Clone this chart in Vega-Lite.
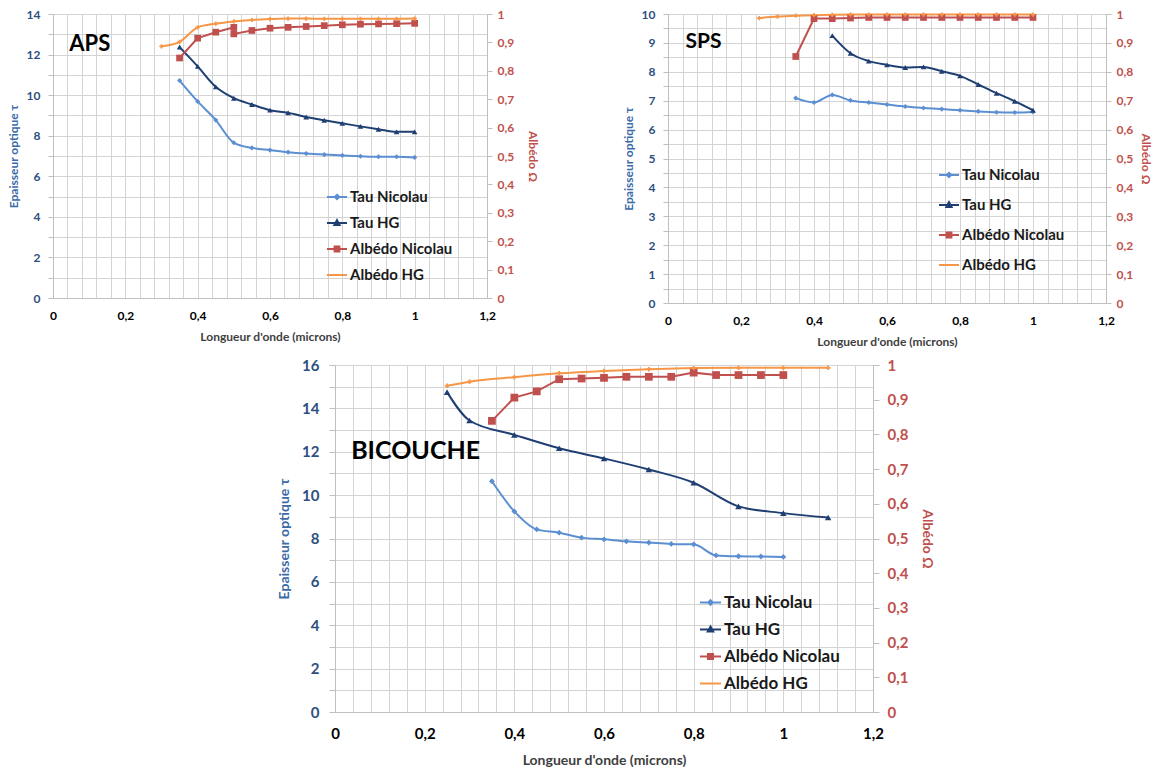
{
  "$schema": "https://vega.github.io/schema/vega-lite/v6.json",
  "padding": {"left": 7, "top": 8, "right": 0, "bottom": 0},
  "background": "white",
  "config": {
    "font": "Lato",
    "view": {"stroke": null},
    "axis": {"domainColor": "#bfbfbf", "gridColor": "#d4d4d4", "tickColor": "#bfbfbf", "labelFontWeight": "bold", "titleFontWeight": "bold", "labelFont": "Lato", "titleFont": "Lato", "labelOverlap": false, "labelFlush": false, "tickCount": 1000},
    "legend": {"labelFont": "Lato"}
  },
  "datasets": {
    "d": [
      {"p": "APS", "s": "Tau Nicolau", "x": 0.35, "y": 10.72},
      {"p": "APS", "s": "Tau Nicolau", "x": 0.4, "y": 9.69},
      {"p": "APS", "s": "Tau Nicolau", "x": 0.45, "y": 8.77},
      {"p": "APS", "s": "Tau Nicolau", "x": 0.5, "y": 7.65},
      {"p": "APS", "s": "Tau Nicolau", "x": 0.55, "y": 7.4},
      {"p": "APS", "s": "Tau Nicolau", "x": 0.6, "y": 7.29},
      {"p": "APS", "s": "Tau Nicolau", "x": 0.65, "y": 7.19},
      {"p": "APS", "s": "Tau Nicolau", "x": 0.7, "y": 7.12},
      {"p": "APS", "s": "Tau Nicolau", "x": 0.75, "y": 7.07},
      {"p": "APS", "s": "Tau Nicolau", "x": 0.8, "y": 7.03},
      {"p": "APS", "s": "Tau Nicolau", "x": 0.85, "y": 6.99},
      {"p": "APS", "s": "Tau Nicolau", "x": 0.9, "y": 6.96},
      {"p": "APS", "s": "Tau Nicolau", "x": 0.95, "y": 6.96},
      {"p": "APS", "s": "Tau Nicolau", "x": 1.0, "y": 6.93},
      {"p": "APS", "s": "Tau HG", "x": 0.35, "y": 12.37},
      {"p": "APS", "s": "Tau HG", "x": 0.4, "y": 11.42},
      {"p": "APS", "s": "Tau HG", "x": 0.45, "y": 10.41},
      {"p": "APS", "s": "Tau HG", "x": 0.5, "y": 9.85},
      {"p": "APS", "s": "Tau HG", "x": 0.55, "y": 9.54},
      {"p": "APS", "s": "Tau HG", "x": 0.6, "y": 9.26},
      {"p": "APS", "s": "Tau HG", "x": 0.65, "y": 9.13},
      {"p": "APS", "s": "Tau HG", "x": 0.7, "y": 8.92},
      {"p": "APS", "s": "Tau HG", "x": 0.75, "y": 8.76},
      {"p": "APS", "s": "Tau HG", "x": 0.8, "y": 8.61},
      {"p": "APS", "s": "Tau HG", "x": 0.85, "y": 8.46},
      {"p": "APS", "s": "Tau HG", "x": 0.9, "y": 8.32},
      {"p": "APS", "s": "Tau HG", "x": 0.95, "y": 8.19},
      {"p": "APS", "s": "Tau HG", "x": 1.0, "y": 8.19},
      {"p": "APS", "s": "Albédo Nicolau", "x": 0.35, "y": 0.845, "i": 1},
      {"p": "APS", "s": "Albédo Nicolau", "x": 0.4, "y": 0.915, "i": 2},
      {"p": "APS", "s": "Albédo Nicolau", "x": 0.45, "y": 0.936, "i": 3},
      {"p": "APS", "s": "Albédo Nicolau", "x": 0.5, "y": 0.953, "i": 4},
      {"p": "APS", "s": "Albédo Nicolau", "x": 0.5, "y": 0.93, "i": 5},
      {"p": "APS", "s": "Albédo Nicolau", "x": 0.55, "y": 0.942, "i": 6},
      {"p": "APS", "s": "Albédo Nicolau", "x": 0.6, "y": 0.95, "i": 7},
      {"p": "APS", "s": "Albédo Nicolau", "x": 0.65, "y": 0.953, "i": 8},
      {"p": "APS", "s": "Albédo Nicolau", "x": 0.7, "y": 0.956, "i": 9},
      {"p": "APS", "s": "Albédo Nicolau", "x": 0.75, "y": 0.959, "i": 10},
      {"p": "APS", "s": "Albédo Nicolau", "x": 0.8, "y": 0.962, "i": 11},
      {"p": "APS", "s": "Albédo Nicolau", "x": 0.85, "y": 0.964, "i": 12},
      {"p": "APS", "s": "Albédo Nicolau", "x": 0.9, "y": 0.965, "i": 13},
      {"p": "APS", "s": "Albédo Nicolau", "x": 0.95, "y": 0.966, "i": 14},
      {"p": "APS", "s": "Albédo Nicolau", "x": 1.0, "y": 0.967, "i": 15},
      {"p": "APS", "s": "Albédo HG", "x": 0.3, "y": 0.886},
      {"p": "APS", "s": "Albédo HG", "x": 0.35, "y": 0.902},
      {"p": "APS", "s": "Albédo HG", "x": 0.4, "y": 0.953},
      {"p": "APS", "s": "Albédo HG", "x": 0.45, "y": 0.966},
      {"p": "APS", "s": "Albédo HG", "x": 0.5, "y": 0.974},
      {"p": "APS", "s": "Albédo HG", "x": 0.55, "y": 0.979},
      {"p": "APS", "s": "Albédo HG", "x": 0.6, "y": 0.982},
      {"p": "APS", "s": "Albédo HG", "x": 0.65, "y": 0.984},
      {"p": "APS", "s": "Albédo HG", "x": 0.7, "y": 0.984},
      {"p": "APS", "s": "Albédo HG", "x": 0.75, "y": 0.983},
      {"p": "APS", "s": "Albédo HG", "x": 0.8, "y": 0.983},
      {"p": "APS", "s": "Albédo HG", "x": 0.85, "y": 0.983},
      {"p": "APS", "s": "Albédo HG", "x": 0.9, "y": 0.983},
      {"p": "APS", "s": "Albédo HG", "x": 0.95, "y": 0.983},
      {"p": "APS", "s": "Albédo HG", "x": 1.0, "y": 0.984},
      {"p": "SPS", "s": "Tau Nicolau", "x": 0.35, "y": 7.09},
      {"p": "SPS", "s": "Tau Nicolau", "x": 0.4, "y": 6.94},
      {"p": "SPS", "s": "Tau Nicolau", "x": 0.45, "y": 7.2},
      {"p": "SPS", "s": "Tau Nicolau", "x": 0.5, "y": 7.01},
      {"p": "SPS", "s": "Tau Nicolau", "x": 0.55, "y": 6.94},
      {"p": "SPS", "s": "Tau Nicolau", "x": 0.6, "y": 6.87},
      {"p": "SPS", "s": "Tau Nicolau", "x": 0.65, "y": 6.8},
      {"p": "SPS", "s": "Tau Nicolau", "x": 0.7, "y": 6.75},
      {"p": "SPS", "s": "Tau Nicolau", "x": 0.75, "y": 6.71},
      {"p": "SPS", "s": "Tau Nicolau", "x": 0.8, "y": 6.67},
      {"p": "SPS", "s": "Tau Nicolau", "x": 0.85, "y": 6.63},
      {"p": "SPS", "s": "Tau Nicolau", "x": 0.9, "y": 6.6},
      {"p": "SPS", "s": "Tau Nicolau", "x": 0.95, "y": 6.59},
      {"p": "SPS", "s": "Tau Nicolau", "x": 1.0, "y": 6.61},
      {"p": "SPS", "s": "Tau HG", "x": 0.45, "y": 9.25},
      {"p": "SPS", "s": "Tau HG", "x": 0.5, "y": 8.64},
      {"p": "SPS", "s": "Tau HG", "x": 0.55, "y": 8.37},
      {"p": "SPS", "s": "Tau HG", "x": 0.6, "y": 8.24},
      {"p": "SPS", "s": "Tau HG", "x": 0.65, "y": 8.15},
      {"p": "SPS", "s": "Tau HG", "x": 0.7, "y": 8.17},
      {"p": "SPS", "s": "Tau HG", "x": 0.75, "y": 8.02},
      {"p": "SPS", "s": "Tau HG", "x": 0.8, "y": 7.86},
      {"p": "SPS", "s": "Tau HG", "x": 0.85, "y": 7.56},
      {"p": "SPS", "s": "Tau HG", "x": 0.9, "y": 7.26},
      {"p": "SPS", "s": "Tau HG", "x": 0.95, "y": 6.98},
      {"p": "SPS", "s": "Tau HG", "x": 1.0, "y": 6.67},
      {"p": "SPS", "s": "Albédo Nicolau", "x": 0.35, "y": 0.853, "i": 1},
      {"p": "SPS", "s": "Albédo Nicolau", "x": 0.4, "y": 0.984, "i": 2},
      {"p": "SPS", "s": "Albédo Nicolau", "x": 0.45, "y": 0.984, "i": 3},
      {"p": "SPS", "s": "Albédo Nicolau", "x": 0.5, "y": 0.986, "i": 4},
      {"p": "SPS", "s": "Albédo Nicolau", "x": 0.55, "y": 0.988, "i": 5},
      {"p": "SPS", "s": "Albédo Nicolau", "x": 0.6, "y": 0.988, "i": 6},
      {"p": "SPS", "s": "Albédo Nicolau", "x": 0.65, "y": 0.988, "i": 7},
      {"p": "SPS", "s": "Albédo Nicolau", "x": 0.7, "y": 0.988, "i": 8},
      {"p": "SPS", "s": "Albédo Nicolau", "x": 0.75, "y": 0.988, "i": 9},
      {"p": "SPS", "s": "Albédo Nicolau", "x": 0.8, "y": 0.988, "i": 10},
      {"p": "SPS", "s": "Albédo Nicolau", "x": 0.85, "y": 0.988, "i": 11},
      {"p": "SPS", "s": "Albédo Nicolau", "x": 0.9, "y": 0.988, "i": 12},
      {"p": "SPS", "s": "Albédo Nicolau", "x": 0.95, "y": 0.988, "i": 13},
      {"p": "SPS", "s": "Albédo Nicolau", "x": 1.0, "y": 0.988, "i": 14},
      {"p": "SPS", "s": "Albédo HG", "x": 0.25, "y": 0.986},
      {"p": "SPS", "s": "Albédo HG", "x": 0.3, "y": 0.991},
      {"p": "SPS", "s": "Albédo HG", "x": 0.35, "y": 0.994},
      {"p": "SPS", "s": "Albédo HG", "x": 0.4, "y": 0.996},
      {"p": "SPS", "s": "Albédo HG", "x": 0.45, "y": 0.997},
      {"p": "SPS", "s": "Albédo HG", "x": 0.5, "y": 0.998},
      {"p": "SPS", "s": "Albédo HG", "x": 0.55, "y": 0.998},
      {"p": "SPS", "s": "Albédo HG", "x": 0.6, "y": 0.998},
      {"p": "SPS", "s": "Albédo HG", "x": 0.65, "y": 0.998},
      {"p": "SPS", "s": "Albédo HG", "x": 0.7, "y": 0.998},
      {"p": "SPS", "s": "Albédo HG", "x": 0.75, "y": 0.998},
      {"p": "SPS", "s": "Albédo HG", "x": 0.8, "y": 0.998},
      {"p": "SPS", "s": "Albédo HG", "x": 0.85, "y": 0.998},
      {"p": "SPS", "s": "Albédo HG", "x": 0.9, "y": 0.998},
      {"p": "SPS", "s": "Albédo HG", "x": 0.95, "y": 0.998},
      {"p": "SPS", "s": "Albédo HG", "x": 1.0, "y": 0.998},
      {"p": "BIC", "s": "Tau Nicolau", "x": 0.35, "y": 10.64},
      {"p": "BIC", "s": "Tau Nicolau", "x": 0.4, "y": 9.25},
      {"p": "BIC", "s": "Tau Nicolau", "x": 0.45, "y": 8.42},
      {"p": "BIC", "s": "Tau Nicolau", "x": 0.5, "y": 8.27},
      {"p": "BIC", "s": "Tau Nicolau", "x": 0.55, "y": 8.04},
      {"p": "BIC", "s": "Tau Nicolau", "x": 0.6, "y": 7.96},
      {"p": "BIC", "s": "Tau Nicolau", "x": 0.65, "y": 7.87},
      {"p": "BIC", "s": "Tau Nicolau", "x": 0.7, "y": 7.81},
      {"p": "BIC", "s": "Tau Nicolau", "x": 0.75, "y": 7.75},
      {"p": "BIC", "s": "Tau Nicolau", "x": 0.8, "y": 7.73},
      {"p": "BIC", "s": "Tau Nicolau", "x": 0.85, "y": 7.22},
      {"p": "BIC", "s": "Tau Nicolau", "x": 0.9, "y": 7.18},
      {"p": "BIC", "s": "Tau Nicolau", "x": 0.95, "y": 7.17},
      {"p": "BIC", "s": "Tau Nicolau", "x": 1.0, "y": 7.15},
      {"p": "BIC", "s": "Tau HG", "x": 0.25, "y": 14.75},
      {"p": "BIC", "s": "Tau HG", "x": 0.3, "y": 13.44},
      {"p": "BIC", "s": "Tau HG", "x": 0.4, "y": 12.78},
      {"p": "BIC", "s": "Tau HG", "x": 0.5, "y": 12.16},
      {"p": "BIC", "s": "Tau HG", "x": 0.6, "y": 11.69},
      {"p": "BIC", "s": "Tau HG", "x": 0.7, "y": 11.18},
      {"p": "BIC", "s": "Tau HG", "x": 0.8, "y": 10.57},
      {"p": "BIC", "s": "Tau HG", "x": 0.9, "y": 9.48},
      {"p": "BIC", "s": "Tau HG", "x": 1.0, "y": 9.17},
      {"p": "BIC", "s": "Tau HG", "x": 1.1, "y": 8.97},
      {"p": "BIC", "s": "Albédo Nicolau", "x": 0.35, "y": 0.839, "i": 1},
      {"p": "BIC", "s": "Albédo Nicolau", "x": 0.4, "y": 0.906, "i": 2},
      {"p": "BIC", "s": "Albédo Nicolau", "x": 0.45, "y": 0.924, "i": 3},
      {"p": "BIC", "s": "Albédo Nicolau", "x": 0.5, "y": 0.959, "i": 4},
      {"p": "BIC", "s": "Albédo Nicolau", "x": 0.55, "y": 0.961, "i": 5},
      {"p": "BIC", "s": "Albédo Nicolau", "x": 0.6, "y": 0.963, "i": 6},
      {"p": "BIC", "s": "Albédo Nicolau", "x": 0.65, "y": 0.966, "i": 7},
      {"p": "BIC", "s": "Albédo Nicolau", "x": 0.7, "y": 0.966, "i": 8},
      {"p": "BIC", "s": "Albédo Nicolau", "x": 0.75, "y": 0.966, "i": 9},
      {"p": "BIC", "s": "Albédo Nicolau", "x": 0.8, "y": 0.978, "i": 10},
      {"p": "BIC", "s": "Albédo Nicolau", "x": 0.85, "y": 0.971, "i": 11},
      {"p": "BIC", "s": "Albédo Nicolau", "x": 0.9, "y": 0.971, "i": 12},
      {"p": "BIC", "s": "Albédo Nicolau", "x": 0.95, "y": 0.971, "i": 13},
      {"p": "BIC", "s": "Albédo Nicolau", "x": 1.0, "y": 0.971, "i": 14},
      {"p": "BIC", "s": "Albédo HG", "x": 0.25, "y": 0.94},
      {"p": "BIC", "s": "Albédo HG", "x": 0.3, "y": 0.952},
      {"p": "BIC", "s": "Albédo HG", "x": 0.4, "y": 0.965},
      {"p": "BIC", "s": "Albédo HG", "x": 0.5, "y": 0.976},
      {"p": "BIC", "s": "Albédo HG", "x": 0.6, "y": 0.983},
      {"p": "BIC", "s": "Albédo HG", "x": 0.7, "y": 0.988},
      {"p": "BIC", "s": "Albédo HG", "x": 0.8, "y": 0.991},
      {"p": "BIC", "s": "Albédo HG", "x": 0.9, "y": 0.992},
      {"p": "BIC", "s": "Albédo HG", "x": 1.0, "y": 0.992},
      {"p": "BIC", "s": "Albédo HG", "x": 1.1, "y": 0.992}
    ]
  },
  "resolve": {"scale": {"color": "independent"}, "legend": {"color": "independent"}},
  "spacing": 11,
  "vconcat": [
    {
      "resolve": {"scale": {"color": "independent"}, "legend": {"color": "independent"}},
      "spacing": 83,
      "hconcat": [
        {
          "width": 434, "height": 284,
          "data": {"name": "d"},
          "transform": [{"filter": "datum.p === 'APS'"}],
          "resolve": {"scale": {"y": "independent"}},
          "layer": [
            {
              "layer": [
                {
                  "transform": [{"filter": "datum.s === 'Tau Nicolau' || datum.s === 'Tau HG'"}],
                  "mark": {"type": "line", "interpolate": "monotone", "strokeWidth": 2},
                  "encoding": {
                    "x": {"field": "x", "type": "quantitative", "scale": {"domain": [0, 1.2], "nice": false},
                      "axis": {"title": "Longueur d'onde (microns)", "titleFontSize": 12, "titleColor": "#404040", "titlePadding": 10, "labelFontSize": 12, "labelColor": "#000000", "labelPadding": 12, "ticks": false, "grid": true,
                        "values": [0,0.04,0.08,0.12,0.16,0.2,0.24,0.28,0.32,0.36,0.4,0.44,0.48,0.52,0.56,0.6,0.64,0.68,0.72,0.76,0.8,0.84,0.88,0.92,0.96,1,1.04,1.08,1.12,1.16,1.2],
                        "labelExpr": "abs(datum.value*5-round(datum.value*5))<0.001 ? replace(format(datum.value,'.1~f'),'.',',') : ''"}},
                    "y": {"field": "y", "type": "quantitative", "scale": {"domain": [0, 14], "nice": false},
                      "axis": {"title": "Epaisseur optique τ", "titleFontSize": 12, "titleColor": "#3A6AA8", "titlePadding": 6, "labelFontSize": 12, "labelColor": "#2F4F7F", "labelPadding": 8, "tickSize": 5, "grid": true,
                        "values": [0,1,2,3,4,5,6,7,8,9,10,11,12,13,14],
                        "labelExpr": "datum.value % 2 === 0 ? format(datum.value,'d') : ''"}},
                    "color": {"field": "s", "type": "nominal",
                      "scale": {"domain": ["Tau Nicolau", "Tau HG", "Albédo Nicolau", "Albédo HG"], "range": ["#5B8FD2", "#1F3F73", "#C0504D", "#F79646"]},
                      "legend": {"title": null, "orient": "none", "legendX": 273, "legendY": 172, "labelFontSize": 15, "labelFontWeight": "bold", "labelColor": "#1a1a1a", "symbolSize": 400, "rowPadding": 7, "labelOffset": 2,
                        "encode": {"symbols": {"update": {
                          "shape": {"signal": "datum.value === 'Tau Nicolau' ? 'M-1,0H1M0,-0.22L0.22,0L0,0.22L-0.22,0Z' : datum.value === 'Tau HG' ? 'M-1,0H1M0,-0.28L0.26,0.2H-0.26Z' : datum.value === 'Albédo Nicolau' ? 'M-1,0H1M-0.24,-0.24H0.24V0.24H-0.24Z' : 'M-1,0H1'"},
                          "fill": {"signal": "datum.value === 'Tau Nicolau' ? '#5B8FD2' : datum.value === 'Tau HG' ? '#1F3F73' : datum.value === 'Albédo Nicolau' ? '#C0504D' : '#F79646'"},
                          "stroke": {"signal": "datum.value === 'Tau Nicolau' ? '#5B8FD2' : datum.value === 'Tau HG' ? '#1F3F73' : datum.value === 'Albédo Nicolau' ? '#C0504D' : '#F79646'"},
                          "strokeWidth": {"value": 2}, "opacity": {"value": 1}, "fillOpacity": {"value": 1}}}}}}
                  }
                },
                {
                  "transform": [{"filter": "datum.s === 'Tau Nicolau'"}],
                  "mark": {"type": "point", "filled": true, "opacity": 1, "size": 26, "shape": "diamond"},
                  "encoding": {
                    "x": {"field": "x", "type": "quantitative"},
                    "y": {"field": "y", "type": "quantitative"},
                    "color": {"field": "s", "type": "nominal"}
                  }
                },
                {
                  "transform": [{"filter": "datum.s === 'Tau HG'"}],
                  "mark": {"type": "point", "filled": true, "opacity": 1, "size": 32, "shape": "triangle-up"},
                  "encoding": {
                    "x": {"field": "x", "type": "quantitative"},
                    "y": {"field": "y", "type": "quantitative"},
                    "color": {"field": "s", "type": "nominal"}
                  }
                },
                {
                  "data": {"values": [{"t": "APS"}]},
                  "mark": {"type": "text", "align": "left", "baseline": "middle", "fontSize": 22, "fontWeight": "bold", "color": "#000000"},
                  "encoding": {"x": {"datum": 0.045}, "y": {"datum": 12.5}, "text": {"field": "t"}}
                }
              ]
            },
            {
              "layer": [
                {
                  "transform": [{"filter": "datum.s === 'Albédo HG'"}],
                  "mark": {"type": "line", "interpolate": "monotone", "strokeWidth": 2},
                  "encoding": {
                    "x": {"field": "x", "type": "quantitative"},
                    "y": {"field": "y", "type": "quantitative", "scale": {"domain": [0, 1], "nice": false},
                      "axis": {"orient": "right", "title": "Albédo Ω", "titleFontSize": 12, "titleColor": "#C0504D", "titlePadding": 12, "labelFontSize": 12, "labelColor": "#C0504D", "labelPadding": 5, "tickSize": 5, "grid": false,
                        "values": [0,0.1,0.2,0.3,0.4,0.5,0.6,0.7,0.8,0.9,1],
                        "labelExpr": "replace(format(datum.value,'.1~f'),'.',',')"}},
                    "color": {"field": "s", "type": "nominal"}
                  }
                },
                {
                  "transform": [{"filter": "datum.s === 'Albédo Nicolau'"}],
                  "mark": {"type": "line", "strokeWidth": 2},
                  "encoding": {
                    "x": {"field": "x", "type": "quantitative"},
                    "y": {"field": "y", "type": "quantitative"},
                    "order": {"field": "i", "type": "quantitative"},
                    "color": {"field": "s", "type": "nominal"}
                  }
                },
                {
                  "transform": [{"filter": "datum.s === 'Albédo Nicolau'"}],
                  "mark": {"type": "point", "filled": true, "opacity": 1, "size": 45, "shape": "square"},
                  "encoding": {
                    "x": {"field": "x", "type": "quantitative"},
                    "y": {"field": "y", "type": "quantitative"},
                    "color": {"field": "s", "type": "nominal"}
                  }
                },
                {
                  "transform": [{"filter": "datum.s === 'Albédo HG'"}],
                  "mark": {"type": "point", "filled": true, "opacity": 1, "size": 18, "shape": "cross"},
                  "encoding": {
                    "x": {"field": "x", "type": "quantitative"},
                    "y": {"field": "y", "type": "quantitative"},
                    "color": {"field": "s", "type": "nominal"}
                  }
                }
              ]
            }
          ]
        },
        {
          "width": 438, "height": 289,
          "data": {"name": "d"},
          "transform": [{"filter": "datum.p === 'SPS'"}],
          "resolve": {"scale": {"y": "independent"}},
          "layer": [
            {
              "layer": [
                {
                  "transform": [{"filter": "datum.s === 'Tau Nicolau' || datum.s === 'Tau HG'"}],
                  "mark": {"type": "line", "interpolate": "monotone", "strokeWidth": 2},
                  "encoding": {
                    "x": {"field": "x", "type": "quantitative", "scale": {"domain": [0, 1.2], "nice": false},
                      "axis": {"title": "Longueur d'onde (microns)", "titleFontSize": 12, "titleColor": "#404040", "titlePadding": 10, "labelFontSize": 12, "labelColor": "#000000", "labelPadding": 12, "ticks": false, "grid": true,
                        "values": [0,0.04,0.08,0.12,0.16,0.2,0.24,0.28,0.32,0.36,0.4,0.44,0.48,0.52,0.56,0.6,0.64,0.68,0.72,0.76,0.8,0.84,0.88,0.92,0.96,1,1.04,1.08,1.12,1.16,1.2],
                        "labelExpr": "abs(datum.value*5-round(datum.value*5))<0.001 ? replace(format(datum.value,'.1~f'),'.',',') : ''"}},
                    "y": {"field": "y", "type": "quantitative", "scale": {"domain": [0, 10], "nice": false},
                      "axis": {"title": "Epaisseur optique τ", "titleFontSize": 12, "titleColor": "#3A6AA8", "titlePadding": 6, "labelFontSize": 12, "labelColor": "#2F4F7F", "labelPadding": 8, "tickSize": 5, "grid": true,
                        "values": [0,0.5,1,1.5,2,2.5,3,3.5,4,4.5,5,5.5,6,6.5,7,7.5,8,8.5,9,9.5,10],
                        "labelExpr": "datum.value % 1 === 0 ? format(datum.value,'d') : ''"}},
                    "color": {"field": "s", "type": "nominal",
                      "scale": {"domain": ["Tau Nicolau", "Tau HG", "Albédo Nicolau", "Albédo HG"], "range": ["#5B8FD2", "#1F3F73", "#C0504D", "#F79646"]},
                      "legend": {"title": null, "orient": "none", "legendX": 270, "legendY": 150, "labelFontSize": 15, "labelFontWeight": "bold", "labelColor": "#1a1a1a", "symbolSize": 400, "rowPadding": 11, "labelOffset": 2,
                        "encode": {"symbols": {"update": {
                          "shape": {"signal": "datum.value === 'Tau Nicolau' ? 'M-1,0H1M0,-0.22L0.22,0L0,0.22L-0.22,0Z' : datum.value === 'Tau HG' ? 'M-1,0H1M0,-0.28L0.26,0.2H-0.26Z' : datum.value === 'Albédo Nicolau' ? 'M-1,0H1M-0.24,-0.24H0.24V0.24H-0.24Z' : 'M-1,0H1'"},
                          "fill": {"signal": "datum.value === 'Tau Nicolau' ? '#5B8FD2' : datum.value === 'Tau HG' ? '#1F3F73' : datum.value === 'Albédo Nicolau' ? '#C0504D' : '#F79646'"},
                          "stroke": {"signal": "datum.value === 'Tau Nicolau' ? '#5B8FD2' : datum.value === 'Tau HG' ? '#1F3F73' : datum.value === 'Albédo Nicolau' ? '#C0504D' : '#F79646'"},
                          "strokeWidth": {"value": 2}, "opacity": {"value": 1}, "fillOpacity": {"value": 1}}}}}}
                  }
                },
                {
                  "transform": [{"filter": "datum.s === 'Tau Nicolau'"}],
                  "mark": {"type": "point", "filled": true, "opacity": 1, "size": 26, "shape": "diamond"},
                  "encoding": {
                    "x": {"field": "x", "type": "quantitative"},
                    "y": {"field": "y", "type": "quantitative"},
                    "color": {"field": "s", "type": "nominal"}
                  }
                },
                {
                  "transform": [{"filter": "datum.s === 'Tau HG'"}],
                  "mark": {"type": "point", "filled": true, "opacity": 1, "size": 32, "shape": "triangle-up"},
                  "encoding": {
                    "x": {"field": "x", "type": "quantitative"},
                    "y": {"field": "y", "type": "quantitative"},
                    "color": {"field": "s", "type": "nominal"}
                  }
                },
                {
                  "data": {"values": [{"t": "SPS"}]},
                  "mark": {"type": "text", "align": "left", "baseline": "middle", "fontSize": 21, "fontWeight": "bold", "color": "#000000"},
                  "encoding": {"x": {"datum": 0.048}, "y": {"datum": 9.03}, "text": {"field": "t"}}
                }
              ]
            },
            {
              "layer": [
                {
                  "transform": [{"filter": "datum.s === 'Albédo HG'"}],
                  "mark": {"type": "line", "interpolate": "monotone", "strokeWidth": 2},
                  "encoding": {
                    "x": {"field": "x", "type": "quantitative"},
                    "y": {"field": "y", "type": "quantitative", "scale": {"domain": [0, 1], "nice": false},
                      "axis": {"orient": "right", "title": "Albédo Ω", "titleFontSize": 12, "titleColor": "#C0504D", "titlePadding": 6, "labelFontSize": 12, "labelColor": "#C0504D", "labelPadding": 5, "tickSize": 5, "grid": false,
                        "values": [0,0.1,0.2,0.3,0.4,0.5,0.6,0.7,0.8,0.9,1],
                        "labelExpr": "replace(format(datum.value,'.1~f'),'.',',')"}},
                    "color": {"field": "s", "type": "nominal"}
                  }
                },
                {
                  "transform": [{"filter": "datum.s === 'Albédo Nicolau'"}],
                  "mark": {"type": "line", "strokeWidth": 2},
                  "encoding": {
                    "x": {"field": "x", "type": "quantitative"},
                    "y": {"field": "y", "type": "quantitative"},
                    "order": {"field": "i", "type": "quantitative"},
                    "color": {"field": "s", "type": "nominal"}
                  }
                },
                {
                  "transform": [{"filter": "datum.s === 'Albédo Nicolau'"}],
                  "mark": {"type": "point", "filled": true, "opacity": 1, "size": 45, "shape": "square"},
                  "encoding": {
                    "x": {"field": "x", "type": "quantitative"},
                    "y": {"field": "y", "type": "quantitative"},
                    "color": {"field": "s", "type": "nominal"}
                  }
                },
                {
                  "transform": [{"filter": "datum.s === 'Albédo HG'"}],
                  "mark": {"type": "point", "filled": true, "opacity": 1, "size": 18, "shape": "cross"},
                  "encoding": {
                    "x": {"field": "x", "type": "quantitative"},
                    "y": {"field": "y", "type": "quantitative"},
                    "color": {"field": "s", "type": "nominal"}
                  }
                }
              ]
            }
          ]
        }
      ]
    },
    {
      "spacing": 0,
      "resolve": {"scale": {"color": "independent"}, "legend": {"color": "independent"}},
      "hconcat": [
        {
          "width": 224, "height": 10,
          "data": {"values": []},
          "mark": {"type": "point", "opacity": 0},
          "encoding": {}
        },
        {
          "width": 538, "height": 347,
          "data": {"name": "d"},
          "transform": [{"filter": "datum.p === 'BIC'"}],
          "resolve": {"scale": {"y": "independent"}},
          "layer": [
            {
              "layer": [
                {
                  "transform": [{"filter": "datum.s === 'Tau Nicolau' || datum.s === 'Tau HG'"}],
                  "mark": {"type": "line", "interpolate": "monotone", "strokeWidth": 2},
                  "encoding": {
                    "x": {"field": "x", "type": "quantitative", "scale": {"domain": [0, 1.2], "nice": false},
                      "axis": {"title": "Longueur d'onde (microns)", "titleFontSize": 14, "titleColor": "#404040", "titlePadding": 12, "labelFontSize": 15, "labelColor": "#000000", "labelPadding": 14, "ticks": false, "grid": true,
                        "values": [0,0.04,0.08,0.12,0.16,0.2,0.24,0.28,0.32,0.36,0.4,0.44,0.48,0.52,0.56,0.6,0.64,0.68,0.72,0.76,0.8,0.84,0.88,0.92,0.96,1,1.04,1.08,1.12,1.16,1.2],
                        "labelExpr": "abs(datum.value*5-round(datum.value*5))<0.001 ? replace(format(datum.value,'.1~f'),'.',',') : ''"}},
                    "y": {"field": "y", "type": "quantitative", "scale": {"domain": [0, 16], "nice": false},
                      "axis": {"title": "Epaisseur optique τ", "titleFontSize": 14, "titleColor": "#3A6AA8", "titlePadding": 10, "labelFontSize": 15, "labelColor": "#2F4F7F", "labelPadding": 10, "tickSize": 6, "grid": true,
                        "values": [0,1,2,3,4,5,6,7,8,9,10,11,12,13,14,15,16],
                        "labelExpr": "datum.value % 2 === 0 ? format(datum.value,'d') : ''"}},
                    "color": {"field": "s", "type": "nominal",
                      "scale": {"domain": ["Tau Nicolau", "Tau HG", "Albédo Nicolau", "Albédo HG"], "range": ["#5B8FD2", "#1F3F73", "#C0504D", "#F79646"]},
                      "legend": {"title": null, "orient": "none", "legendX": 364, "legendY": 226, "labelFontSize": 17, "labelFontWeight": "bold", "labelColor": "#1a1a1a", "symbolSize": 440, "rowPadding": 7, "labelOffset": 2,
                        "encode": {"symbols": {"update": {
                          "shape": {"signal": "datum.value === 'Tau Nicolau' ? 'M-1,0H1M0,-0.22L0.22,0L0,0.22L-0.22,0Z' : datum.value === 'Tau HG' ? 'M-1,0H1M0,-0.28L0.26,0.2H-0.26Z' : datum.value === 'Albédo Nicolau' ? 'M-1,0H1M-0.24,-0.24H0.24V0.24H-0.24Z' : 'M-1,0H1'"},
                          "fill": {"signal": "datum.value === 'Tau Nicolau' ? '#5B8FD2' : datum.value === 'Tau HG' ? '#1F3F73' : datum.value === 'Albédo Nicolau' ? '#C0504D' : '#F79646'"},
                          "stroke": {"signal": "datum.value === 'Tau Nicolau' ? '#5B8FD2' : datum.value === 'Tau HG' ? '#1F3F73' : datum.value === 'Albédo Nicolau' ? '#C0504D' : '#F79646'"},
                          "strokeWidth": {"value": 2}, "opacity": {"value": 1}, "fillOpacity": {"value": 1}}}}}}
                  }
                },
                {
                  "transform": [{"filter": "datum.s === 'Tau Nicolau'"}],
                  "mark": {"type": "point", "filled": true, "opacity": 1, "size": 34, "shape": "diamond"},
                  "encoding": {
                    "x": {"field": "x", "type": "quantitative"},
                    "y": {"field": "y", "type": "quantitative"},
                    "color": {"field": "s", "type": "nominal"}
                  }
                },
                {
                  "transform": [{"filter": "datum.s === 'Tau HG'"}],
                  "mark": {"type": "point", "filled": true, "opacity": 1, "size": 42, "shape": "triangle-up"},
                  "encoding": {
                    "x": {"field": "x", "type": "quantitative"},
                    "y": {"field": "y", "type": "quantitative"},
                    "color": {"field": "s", "type": "nominal"}
                  }
                },
                {
                  "data": {"values": [{"t": "BICOUCHE"}]},
                  "mark": {"type": "text", "align": "left", "baseline": "middle", "fontSize": 25, "fontWeight": "bold", "color": "#000000"},
                  "encoding": {"x": {"datum": 0.036}, "y": {"datum": 12.03}, "text": {"field": "t"}}
                }
              ]
            },
            {
              "layer": [
                {
                  "transform": [{"filter": "datum.s === 'Albédo HG'"}],
                  "mark": {"type": "line", "interpolate": "monotone", "strokeWidth": 2},
                  "encoding": {
                    "x": {"field": "x", "type": "quantitative"},
                    "y": {"field": "y", "type": "quantitative", "scale": {"domain": [0, 1], "nice": false},
                      "axis": {"orient": "right", "title": "Albédo Ω", "titleFontSize": 14, "titleColor": "#C0504D", "titlePadding": 12, "labelFontSize": 15, "labelColor": "#C0504D", "labelPadding": 8, "tickSize": 6, "grid": false,
                        "values": [0,0.1,0.2,0.3,0.4,0.5,0.6,0.7,0.8,0.9,1],
                        "labelExpr": "replace(format(datum.value,'.1~f'),'.',',')"}},
                    "color": {"field": "s", "type": "nominal"}
                  }
                },
                {
                  "transform": [{"filter": "datum.s === 'Albédo Nicolau'"}],
                  "mark": {"type": "line", "strokeWidth": 2},
                  "encoding": {
                    "x": {"field": "x", "type": "quantitative"},
                    "y": {"field": "y", "type": "quantitative"},
                    "order": {"field": "i", "type": "quantitative"},
                    "color": {"field": "s", "type": "nominal"}
                  }
                },
                {
                  "transform": [{"filter": "datum.s === 'Albédo Nicolau'"}],
                  "mark": {"type": "point", "filled": true, "opacity": 1, "size": 60, "shape": "square"},
                  "encoding": {
                    "x": {"field": "x", "type": "quantitative"},
                    "y": {"field": "y", "type": "quantitative"},
                    "color": {"field": "s", "type": "nominal"}
                  }
                },
                {
                  "transform": [{"filter": "datum.s === 'Albédo HG'"}],
                  "mark": {"type": "point", "filled": true, "opacity": 1, "size": 20, "shape": "cross"},
                  "encoding": {
                    "x": {"field": "x", "type": "quantitative"},
                    "y": {"field": "y", "type": "quantitative"},
                    "color": {"field": "s", "type": "nominal"}
                  }
                }
              ]
            }
          ]
        }
      ]
    }
  ]
}
